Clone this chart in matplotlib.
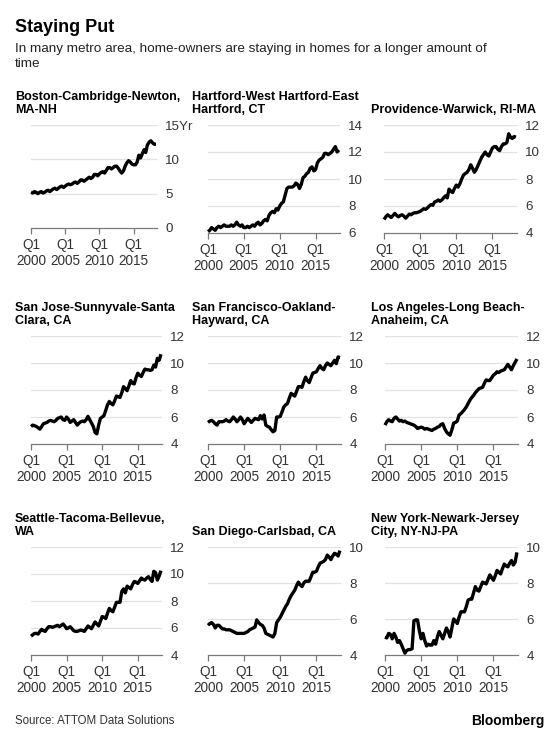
import matplotlib
matplotlib.use('Agg')
import matplotlib.pyplot as plt
import numpy as np

plt.rcParams['font.family'] = ['Liberation Sans', 'DejaVu Sans']

# ---------------- data (quarterly, 2000 Q1 .. 2018 Q2) ----------------
start_year = 2000

boston = [5.2, 5.1, 5.3, 5.2,   5.0, 5.2, 5.3, 5.1,   5.2, 5.4, 5.5, 5.3,
          5.5, 5.7, 5.8, 5.6,   5.8, 6.0, 6.1, 5.9,   6.1, 6.3, 6.4, 6.3,
          6.4, 6.6, 6.7, 6.5,   6.7, 7.0, 7.0, 6.8,   7.0, 7.2, 7.4, 7.2,
          7.4, 7.8, 7.8, 7.6,   7.9, 8.1, 8.2, 8.0,   8.4, 8.8, 8.8, 8.6,
          8.8, 9.0, 9.0, 8.7,   8.3, 8.0, 8.3, 9.0,   9.5, 9.8, 9.6, 9.3,
          9.2, 9.2, 9.6, 10.6,  10.2, 10.8, 11.4, 11.0, 12.1, 12.5, 12.7, 12.4,
          12.2, 12.2]

hartford = [6.1, 6.2, 6.4, 6.3,  6.2, 6.4, 6.5, 6.4,  6.5, 6.6, 6.5, 6.5,
            6.5, 6.6, 6.5, 6.6,  6.8, 6.6, 6.5, 6.6,  6.4, 6.4, 6.5, 6.4,
            6.5, 6.6, 6.5, 6.7,  6.8, 6.6, 6.7, 6.9,  7.0, 6.9, 7.3, 7.5,
            7.6, 7.5, 7.8, 7.7,  8.0, 8.2, 8.3, 8.8,  9.3, 9.4, 9.4, 9.4,
            9.5, 9.7, 9.6, 9.3,  9.6, 10.1, 10.2, 10.4,  10.5, 10.8, 10.9, 10.6,
            10.7, 11.2, 11.4, 11.5,  11.6, 11.9, 11.9, 11.8,  11.9, 12.0, 12.2, 12.4,
            12.0, 12.15]

providence = [5.0, 5.2, 5.35, 5.25,  5.15, 5.3, 5.45, 5.3,  5.2, 5.3, 5.35, 5.25,
              5.1, 5.25, 5.4, 5.35,  5.45, 5.5, 5.5, 5.55,  5.6, 5.7, 5.8, 5.75,
              5.85, 6.0, 6.1, 6.05,  6.3, 6.35, 6.45, 6.35,  6.45, 6.6, 6.75, 6.6,
              7.25, 7.1, 7.0, 7.3,  7.55, 7.4, 7.65, 8.0,  8.3, 8.4, 8.5, 8.7,
              9.05, 8.8, 8.5, 8.7,  9.0, 9.3, 9.6, 9.8,  10.0, 9.8, 9.7, 10.0,
              10.3, 10.4, 10.4, 10.2,  10.1, 10.4, 10.6, 10.6,  10.7, 11.35, 11.1, 11.0,
              11.15, 11.1]

san_jose = [5.3, 5.4, 5.35, 5.3,  5.2, 5.1, 5.3, 5.5,  5.55, 5.6, 5.7, 5.75,
            5.7, 5.65, 5.75, 5.9,  5.95, 6.0, 5.8, 5.75,  6.0, 5.85, 5.6, 5.7,
            5.8, 5.6, 5.4, 5.55,  5.65, 5.7, 5.65, 5.8,  6.05, 5.8, 5.55, 5.3,
            4.85, 4.75, 5.4, 5.9,  6.0, 6.1, 6.5, 6.9,  7.15, 7.0, 6.9, 7.2,
            7.55, 7.5, 7.45, 7.8,  8.25, 8.1, 7.95, 8.3,  8.7, 8.5, 8.45, 8.9,
            9.25, 9.1, 9.0, 9.3,  9.55, 9.5, 9.5, 9.45,  9.5, 9.85, 9.7, 10.35,
            10.2, 10.65]

san_francisco = [5.6, 5.7, 5.75, 5.65,  5.5, 5.4, 5.65, 5.65,  5.65, 5.7, 5.8, 5.7,
                 5.65, 5.8, 6.0, 5.85,  5.65, 5.8, 6.0, 5.8,  5.5, 5.7, 5.9, 5.75,
                 5.6, 5.75, 5.9, 5.85,  5.8, 6.1, 5.85, 6.15,  5.4, 5.3, 5.25, 5.05,
                 4.9, 5.0, 6.0, 6.0,  6.05, 6.4, 6.75, 6.9,  7.0, 7.4, 7.75, 7.65,
                 7.55, 7.9, 8.25, 8.25,  8.2, 8.6, 8.95, 8.7,  8.55, 8.9, 9.25, 9.3,
                 9.35, 9.6, 9.8, 9.6,  9.5, 9.8, 10.0, 9.9,  9.8, 10.0, 10.2, 9.95,
                 10.45, 10.4]

los_angeles = [5.4, 5.65, 5.8, 5.7,  5.65, 5.9, 6.0, 5.85,  5.7, 5.75, 5.65, 5.7,
               5.6, 5.55, 5.5, 5.45,  5.4, 5.3, 5.15, 5.2,  5.25, 5.2, 5.1, 5.15,
               5.1, 5.05, 5.0, 5.1,  5.15, 5.25, 5.3, 5.45,  5.5, 5.15, 4.9, 4.75,
               4.65, 5.05, 5.55, 5.6,  5.7, 6.15, 6.25, 6.4,  6.55, 6.75, 7.0, 7.25,
               7.45, 7.6, 7.8, 7.95,  8.1, 8.15, 8.2, 8.5,  8.75, 8.7, 8.7, 8.9,
               9.1, 9.2, 9.35, 9.3,  9.4, 9.45, 9.5, 9.7,  9.9, 9.7, 9.5, 9.8,
               10.05, 10.3]

seattle = [5.4, 5.5, 5.6, 5.6,  5.55, 5.75, 5.9, 5.8,  5.75, 5.95, 6.1, 6.1,
           6.05, 6.1, 6.15, 6.2,  6.1, 6.2, 6.3, 6.15,  5.95, 6.0, 6.1, 5.95,
           5.8, 5.75, 5.75, 5.8,  5.85, 5.8, 5.75, 5.95,  6.15, 6.05, 5.95, 6.2,
           6.45, 6.3, 6.15, 6.5,  6.85, 6.8, 6.7, 7.1,  7.45, 7.3, 7.2, 7.55,
           7.9, 7.9, 7.9, 8.7,  8.9, 8.6, 9.1, 9.0,  8.9, 9.2, 9.45, 9.4,
           9.3, 9.5, 9.7, 9.6,  9.55, 9.7, 9.8, 9.6,  9.45, 10.2, 10.1, 9.55,
           9.85, 10.25]

san_diego = [5.65, 5.75, 5.8, 5.7,  5.5, 5.65, 5.65, 5.55,  5.45, 5.45, 5.4, 5.4,
             5.4, 5.35, 5.3, 5.25,  5.2, 5.2, 5.2, 5.2,  5.2, 5.25, 5.3, 5.4,
             5.45, 5.5, 5.55, 5.95,  5.8, 5.7, 5.65, 5.5,  5.2, 5.15, 5.1, 5.05,
             5.0, 5.2, 5.8, 5.95,  6.1, 6.3, 6.5, 6.7,  6.85, 7.1, 7.3, 7.45,
             7.6, 7.85, 8.05, 7.9,  7.8, 8.0, 8.1, 8.1,  8.1, 8.35, 8.6, 8.6,
             8.65, 8.9, 9.1, 9.15,  9.2, 9.3, 9.55, 9.45,  9.3, 9.5, 9.65, 9.6,
             9.5, 9.8]

new_york = [5.0, 4.95, 5.2, 5.15,  4.9, 5.2, 5.0, 4.7,  4.8, 4.6, 4.35, 4.1,
            4.25, 4.3, 4.3, 4.35,  5.9, 5.95, 5.95, 5.35,  4.9, 5.2, 4.8, 4.5,
            4.6, 4.55, 4.55, 4.8,  4.6, 5.0, 5.3, 5.1,  4.9, 5.2, 5.5, 5.3,
            5.0, 5.5, 6.0, 5.9,  5.75, 6.1, 6.4, 6.4,  6.4, 6.7, 7.05, 7.1,
            7.1, 7.45, 7.8, 7.6,  7.55, 7.8, 8.05, 8.0,  7.95, 8.2, 8.45, 8.3,
            8.15, 8.4, 8.7, 8.6,  8.5, 8.8, 9.05, 8.95,  8.9, 9.1, 9.25, 9.0,
            9.15, 9.7]

titles = ["Boston-Cambridge-Newton,\nMA-NH",
          "Hartford-West Hartford-East\nHartford, CT",
          "Providence-Warwick, RI-MA",
          "San Jose-Sunnyvale-Santa\nClara, CA",
          "San Francisco-Oakland-\nHayward, CA",
          "Los Angeles-Long Beach-\nAnaheim, CA",
          "Seattle-Tacoma-Bellevue,\nWA",
          "San Diego-Carlsbad, CA",
          "New York-Newark-Jersey\nCity, NY-NJ-PA"]
series = [boston, hartford, providence, san_jose, san_francisco,
          los_angeles, seattle, san_diego, new_york]
y_ticks = [[0, 5, 10, 15], [6, 8, 10, 12, 14], [4, 6, 8, 10, 12],
           [4, 6, 8, 10, 12], [4, 6, 8, 10, 12], [4, 6, 8, 10, 12],
           [4, 6, 8, 10, 12], [4, 6, 8, 10], [4, 6, 8, 10]]
y_tick_labels = [["0", "5", "10", "15Yr"]] + [[str(v) for v in t] for t in y_ticks[1:]]
x_ticks = [2000, 2005, 2010, 2015]
x_tick_labels = ["Q1\n2000", "Q1\n2005", "Q1\n2010", "Q1\n2015"]

# ---------------- layout (pixels) ----------------
W, H = 560, 735
fig = plt.figure(figsize=(W / 100, H / 100), dpi=100)
fig.patch.set_facecolor('white')

# (left, top, right, bottom) of each plot area
boxes = [(31, 125, 157, 228), (208, 125, 340, 233), (384, 125, 517, 233),
         (31, 336, 162, 444), (208, 336, 341, 444), (385, 336, 518, 444),
         (31, 547, 162, 655), (208, 547, 341, 655), (385, 547, 518, 655)]
title_x = [15, 192, 371]
title_bottom = [116, 327, 538]

TXT = '#333333'
GRID = '#e2e2e2'
AXC = '#7a7a7a'

for i, (vals, box) in enumerate(zip(series, boxes)):
    l, t, r, b = box
    ax = fig.add_axes([l / W, 1 - b / H, (r - l) / W, (b - t) / H])
    x = start_year + 0.25 * np.arange(len(vals))
    ticks = y_ticks[i]
    for tv in ticks[1:]:
        ax.axhline(tv, color=GRID, lw=0.9, zorder=0)
    ax.plot(x, vals, color='black', lw=2.4, solid_joinstyle='round',
            solid_capstyle='butt', zorder=3, clip_on=False)
    ax.set_xlim(2000, 2018.4)
    ax.set_ylim(ticks[0], ticks[-1])
    ax.set_yticks(ticks)
    ax.set_yticklabels(y_tick_labels[i])
    ax.yaxis.tick_right()
    ax.tick_params(axis='y', length=0, pad=6, labelsize=9.6, labelcolor=TXT)
    ax.set_xticks(x_ticks)
    ax.set_xticklabels(x_tick_labels, linespacing=1.15)
    ax.tick_params(axis='x', length=4, width=0.9, color=AXC, pad=3.5,
                   labelsize=9.8, labelcolor=TXT)
    for s in ['top', 'left', 'right']:
        ax.spines[s].set_visible(False)
    ax.spines['bottom'].set_color(AXC)
    ax.spines['bottom'].set_linewidth(0.9)
    ax.set_facecolor('none')
    row, col = divmod(i, 3)
    fig.text(title_x[col] / W, 1 - title_bottom[row] / H, titles[i],
             ha='left', va='bottom', fontsize=9, fontweight='bold',
             color='black', linespacing=1.15)

fig.text(15 / W, 1 - 28 / H, "Staying Put", ha='left', va='center',
         fontsize=13, fontweight='bold', color='black')
fig.text(15 / W, 1 - 43 / H,
         "In many metro area, home-owners are staying in homes for a longer amount of\ntime",
         ha='left', va='top', fontsize=9.7, color='#222222', linespacing=1.3)
fig.text(15 / W, 1 - 721 / H, "Source: ATTOM Data Solutions", ha='left',
         va='center', fontsize=8.3, color=TXT)
fig.text(545 / W, 1 - 721 / H, "Bloomberg", ha='right', va='center',
         fontsize=10, fontweight='bold', color='black')

fig.savefig('out.png', dpi=100, facecolor='white')
